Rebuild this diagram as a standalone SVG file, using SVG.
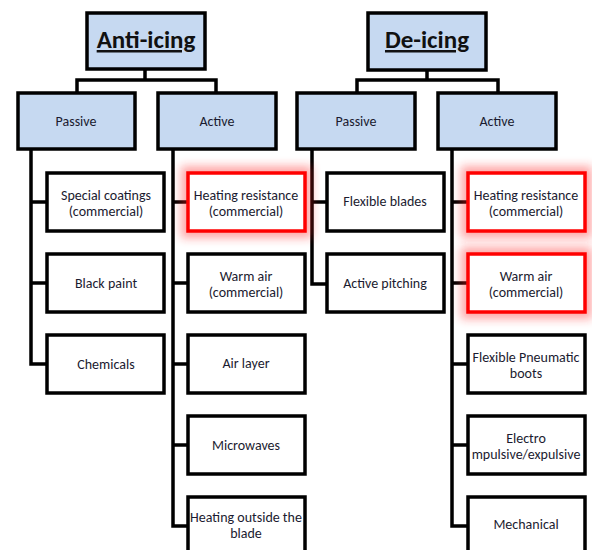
<svg xmlns="http://www.w3.org/2000/svg" width="592" height="550" viewBox="0 0 592 550">
<style>
.top{fill:#c6d9f1;stroke:#000;stroke-width:3.5}
.cat{fill:#c6d9f1;stroke:#000;stroke-width:3.5}
.leaf{fill:#fff;stroke:#000;stroke-width:3.5}
.hot{fill:#fff;stroke:#ff0000;stroke-width:3.5}
.halo{fill:none;stroke:#ff2020;stroke-width:14;opacity:0.4}
.t{font-family:Calibri,Carlito,"Liberation Sans",Arial,sans-serif;font-size:14px;fill:#1b1b30;text-anchor:middle}
.title{font-family:Calibri,Carlito,"Liberation Sans",Arial,sans-serif;font-size:25px;font-weight:bold;fill:#111;text-anchor:middle;text-decoration:underline}
.c{fill:none;stroke:#000;stroke-width:3.5}
</style>
<defs>
<filter id="blur" x="-30%" y="-60%" width="160%" height="220%"><feGaussianBlur stdDeviation="5"/></filter>
</defs>
<g id="connectors">
<path class="c" d="M145 69V80H77V93M145 80H216V93"/>
<path class="c" d="M427 70V80H357V93M427 80H498V93"/>
<path class="c" d="M31 149V364H47M31 202H47M31 283H47"/>
<path class="c" d="M173 149V526H188M173 202H188M173 283H188M173 364H188M173 445H188"/>
<path class="c" d="M312 149V284H327M312 202H327"/>
<path class="c" d="M452 149V526H468M452 202H468M452 283H468M452 364H468M452 445H468"/>
</g>
<g id="anti-icing"><rect class="top" x="87" y="13" width="118" height="56"/><text class="title" x="146" y="48">Anti-icing</text></g>
<g id="de-icing"><rect class="top" x="368" y="13" width="118" height="57"/><text class="title" x="427" y="48">De-icing</text></g>
<g id="anti-passive"><rect class="cat" x="18" y="93" width="117" height="56"/><text class="t" x="76" y="126">Passive</text></g>
<g id="anti-active"><rect class="cat" x="158" y="93" width="118" height="56"/><text class="t" x="217" y="126">Active</text></g>
<g id="de-passive"><rect class="cat" x="297" y="93" width="118" height="56"/><text class="t" x="356" y="126">Passive</text></g>
<g id="de-active"><rect class="cat" x="438" y="93" width="118" height="56"/><text class="t" x="497" y="126">Active</text></g>

<g id="special-coatings"><rect class="leaf" x="47" y="173" width="117" height="58"/><text class="t" x="106" y="200">Special coatings</text><text class="t" x="106" y="216">(commercial)</text></g>
<g id="black-paint"><rect class="leaf" x="47" y="254" width="117" height="58"/><text class="t" x="106" y="288">Black paint</text></g>
<g id="chemicals"><rect class="leaf" x="47" y="335" width="117" height="58"/><text class="t" x="106" y="369">Chemicals</text></g>

<g id="a-heating-resistance"><rect class="halo" x="188" y="173" width="117" height="58" filter="url(#blur)"/><rect class="hot" x="188" y="173" width="117" height="58"/><text class="t" x="246" y="200">Heating resistance</text><text class="t" x="246" y="216">(commercial)</text></g>
<g id="a-warm-air"><rect class="leaf" x="188" y="254" width="117" height="58"/><text class="t" x="246" y="281">Warm air</text><text class="t" x="246" y="297">(commercial)</text></g>
<g id="air-layer"><rect class="leaf" x="188" y="335" width="117" height="58"/><text class="t" x="246" y="368">Air layer</text></g>
<g id="microwaves"><rect class="leaf" x="188" y="416" width="117" height="58"/><text class="t" x="246" y="450">Microwaves</text></g>
<g id="heating-outside"><rect class="leaf" x="188" y="497" width="117" height="60"/><text class="t" x="246" y="522">Heating outside the</text><text class="t" x="246" y="538">blade</text></g>

<g id="flexible-blades"><rect class="leaf" x="327" y="173" width="117" height="58"/><text class="t" x="385" y="206">Flexible blades</text></g>
<g id="active-pitching"><rect class="leaf" x="327" y="254" width="117" height="58"/><text class="t" x="385" y="288">Active pitching</text></g>

<g id="d-heating-resistance"><rect class="halo" x="468" y="173" width="117" height="58" filter="url(#blur)"/><rect class="hot" x="468" y="173" width="117" height="58"/><text class="t" x="526" y="200">Heating resistance</text><text class="t" x="526" y="216">(commercial)</text></g>
<g id="d-warm-air"><rect class="halo" x="468" y="254" width="117" height="58" filter="url(#blur)"/><rect class="hot" x="468" y="254" width="117" height="58"/><text class="t" x="526" y="281">Warm air</text><text class="t" x="526" y="297">(commercial)</text></g>
<g id="pneumatic-boots"><rect class="leaf" x="468" y="335" width="117" height="58"/><text class="t" x="526" y="362">Flexible Pneumatic</text><text class="t" x="526" y="378">boots</text></g>
<g id="electro"><rect class="leaf" x="468" y="416" width="117" height="58"/><text class="t" x="526" y="443">Electro</text><text class="t" x="526" y="459">mpulsive/expulsive</text></g>
<g id="mechanical"><rect class="leaf" x="468" y="497" width="117" height="60"/><text class="t" x="526" y="529">Mechanical</text></g>
</svg>
